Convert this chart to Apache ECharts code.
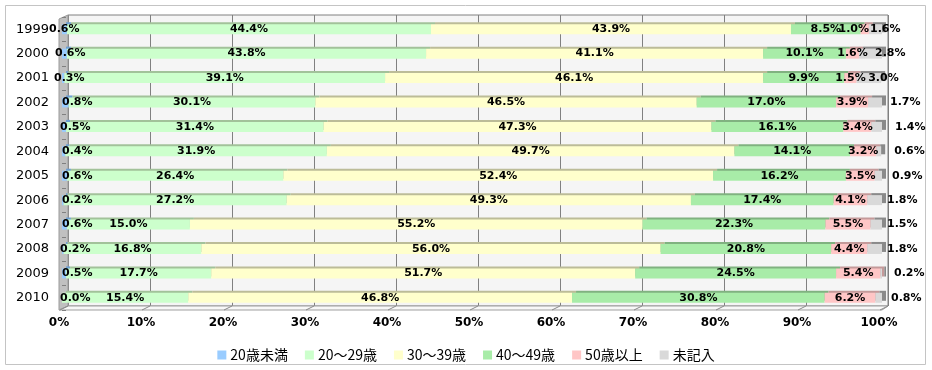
<!DOCTYPE html>
<html>
<head>
<meta charset="utf-8">
<script src="https://cdn.jsdelivr.net/npm/echarts@6/dist/echarts.min.js"></script>
<style>html,body{margin:0;padding:0;background:#fff;}#c{width:932px;height:370px;}</style>
</head>
<body>
<div id="c"></div>
<script>
// ---- data ----
const years = ['1999','2000','2001','2002','2003','2004','2005','2006','2007','2008','2009','2010'];
const seriesNames = ['20歳未満','20～29歳','30～39歳','40～49歳','50歳以上','未記入'];
const under20   = [0.6, 0.6, 0.3, 0.8, 0.5, 0.4, 0.6, 0.2, 0.6, 0.2, 0.5, 0.0];
const age20s    = [44.4, 43.8, 39.1, 30.1, 31.4, 31.9, 26.4, 27.2, 15.0, 16.8, 17.7, 15.4];
const age30s    = [43.9, 41.1, 46.1, 46.5, 47.3, 49.7, 52.4, 49.3, 55.2, 56.0, 51.7, 46.8];
const age40s    = [8.5, 10.1, 9.9, 17.0, 16.1, 14.1, 16.2, 17.4, 22.3, 20.8, 24.5, 30.8];
const age50plus = [1.0, 1.6, 1.5, 3.9, 3.4, 3.2, 3.5, 4.1, 5.5, 4.4, 5.4, 6.2];
const unknown   = [1.6, 2.8, 3.0, 1.7, 1.4, 0.6, 0.9, 1.8, 1.5, 1.8, 0.2, 0.8];
const xTicks = [0,10,20,30,40,50,60,70,80,90,100];

// ---- styling (not data) ----
const faceColors = ['#99ccff','#ccffcc','#ffffcc','#a8eca8','#ffc6c6','#d9d9d9'];
const topColors  = ['#6d9fd2','#a2c29a','#bcbc98','#80b280','#c49a9a','#8a8a8a'];
const nudgeUnder20 = [-13,-7,-8,0,-2,0,0,0,0,-2,0,-2];
const nudge50plus  = [-11,0,0,0,0,0,0,0,0,0,0,0];
const nudgeUnknown = [-19,-14,-20,1,6,6,3,-2,-2,-2,5,2];

const FRONT = {left:62, top:17, width:820, height:293};
const BACK  = {left:68, top:15, width:820, height:291};
const WALL_X = 59;

const chart = echarts.init(document.getElementById('c'), null, {renderer:'canvas'});
const labelFont = {fontFamily:'DejaVu Sans', fontWeight:'bold', fontSize:11, color:'#000'};
const values = [under20, age20s, age30s, age40s, age50plus, unknown];

const series = values.map((arr, si) => ({
  name: seriesNames[si],
  type: 'bar',
  stack: 'total',
  xAxisIndex: 0, yAxisIndex: 0,
  barWidth: 10,
  silent: true,
  itemStyle: {
    color: faceColors[si],
    shadowColor: topColors[si],
    shadowBlur: 0,
    shadowOffsetX: 4,
    shadowOffsetY: -2
  },
  label: Object.assign({
    show: true,
    formatter: p => p.value.toFixed(1) + '%',
    position: si === 0 ? 'insideLeft' : (si === 5 ? 'right' : 'inside'),
    distance: si === 0 ? 0 : (si === 5 ? 7 : 5)
  }, labelFont),
  data: arr.map((v, i) => {
    const d = {value: v};
    let nx = 0;
    if (si === 0) nx = nudgeUnder20[i];
    if (si === 4) nx = nudge50plus[i];
    if (si === 5) nx = nudgeUnknown[i];
    if (nx) d.label = {offset: [nx, 0]};
    return d;
  })
}));

// decorations computed from layout constants
const graphics = [];
graphics.push({type:'rect', z:-10, silent:true,
  shape:{x:5.5, y:5.5, width:920, height:359},
  style:{fill:'none', stroke:'#c4c4c4', lineWidth:1}});
const backBottom = BACK.top + BACK.height;
const frontBottom = FRONT.top + FRONT.height;
// left wall
graphics.push({type:'polygon', z:1, silent:true,
  shape:{points:[[WALL_X, BACK.top+4],[BACK.left, BACK.top],[BACK.left, backBottom],[WALL_X, frontBottom]]},
  style:{fill:'#c0c0c0', stroke:'#9a9a9a', lineWidth:1}});
// floor
graphics.push({type:'polygon', z:1, silent:true,
  shape:{points:[[BACK.left, backBottom],[BACK.left+BACK.width, backBottom],[FRONT.left+FRONT.width, frontBottom],[WALL_X, frontBottom]]},
  style:{fill:'#f8f8f8', stroke:'#a0a0a0', lineWidth:1}});
xTicks.forEach(t => {
  const bx = BACK.left + BACK.width * t / 100;
  const fx = FRONT.left + FRONT.width * t / 100;
  graphics.push({type:'line', z:1, silent:true,
    shape:{x1:bx, y1:backBottom, x2:fx - 2, y2:frontBottom},
    style:{stroke:'#8a8a8a', lineWidth:1}});
});

chart.setOption({
  animation: false,
  backgroundColor: '#ffffff',
  grid: [
    Object.assign({containLabel:false, show:false}, FRONT),
    Object.assign({containLabel:false, show:true, backgroundColor:'#f5f5f5', borderColor:'#808080', borderWidth:1}, BACK)
  ],
  xAxis: [
    {type:'value', gridIndex:0, min:0, max:100, interval:10,
     axisLine:{show:false}, axisTick:{show:false}, splitLine:{show:false},
     axisLabel:{formatter:'{value}%', margin:7, padding:[0,6,0,0],
       fontFamily:'DejaVu Sans', fontWeight:'bold', fontSize:12, color:'#000'}},
    {type:'value', gridIndex:1, min:0, max:100, interval:10,
     axisLine:{show:false}, axisTick:{show:false}, axisLabel:{show:false},
     splitLine:{show:true, lineStyle:{color:'#808080', width:1}}}
  ],
  yAxis: [
    {type:'category', gridIndex:0, data:years, inverse:true, z:3,
     axisLine:{show:false},
     axisTick:{show:true, inside:true, length:4, lineStyle:{color:'#808080'}},
     axisLabel:{margin:13, fontFamily:'DejaVu Sans', fontSize:13, color:'#000'}},
    {type:'category', gridIndex:1, data:years, inverse:true,
     axisLine:{show:false}, axisTick:{show:false}, axisLabel:{show:false}, splitLine:{show:false}}
  ],
  legend: {
    data: seriesNames,
    top: 343, left: 'center',
    icon: 'rect', itemWidth: 9, itemHeight: 9, itemGap: 17,
    selectedMode: false,
    itemStyle: {shadowColor:'transparent', shadowBlur:0, shadowOffsetX:0, shadowOffsetY:0},
    textStyle: {fontFamily:'Noto Sans CJK JP', fontSize:14, color:'#000', padding:[0,0,0,-1]}
  },
  graphic: graphics,
  series: series
});
</script>
</body>
</html>
